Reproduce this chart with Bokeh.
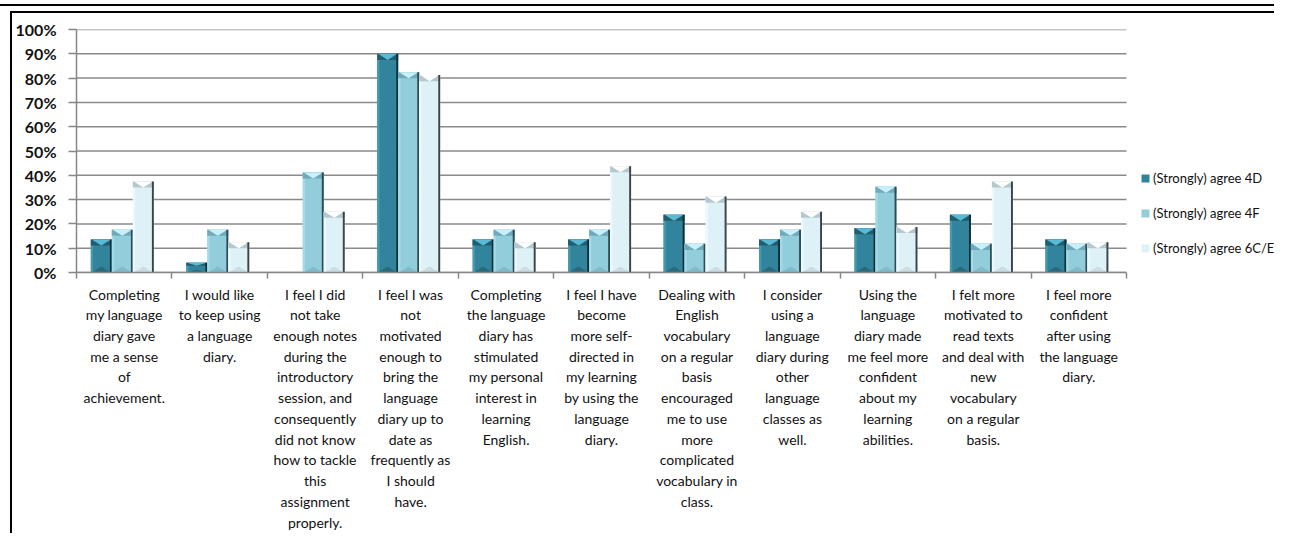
import numpy as np
from bokeh.plotting import figure
from bokeh.models import (ColumnDataSource, Range1d, FixedTicker, NumeralTickFormatter,
                          Legend, LegendItem)
from bokeh.embed import file_html
from bokeh.resources import INLINE

# ---------------- data ----------------
statements = [
    "Completing\nmy language\ndiary gave\nme a sense\nof\nachievement.",
    "I would like\nto keep using\na language\ndiary.",
    "I feel I did\nnot take\nenough notes\nduring the\nintroductory\nsession, and\nconsequently\ndid not know\nhow to tackle\nthis\nassignment\nproperly.",
    "I feel I was\nnot\nmotivated\nenough to\nbring the\nlanguage\ndiary up to\ndate as\nfrequently as\nI should\nhave.",
    "Completing\nthe language\ndiary has\nstimulated\nmy personal\ninterest in\nlearning\nEnglish.",
    "I feel I have\nbecome\nmore self-\ndirected in\nmy learning\nby using the\nlanguage\ndiary.",
    "Dealing with\nEnglish\nvocabulary\non a regular\nbasis\nencouraged\nme to use\nmore\ncomplicated\nvocabulary in\nclass.",
    "I consider\nusing a\nlanguage\ndiary during\nother\nlanguage\nclasses as\nwell.",
    "Using the\nlanguage\ndiary made\nme feel more\nconfident\nabout my\nlearning\nabilities.",
    "I felt more\nmotivated to\nread texts\nand deal with\nnew\nvocabulary\non a regular\nbasis.",
    "I feel more\nconfident\nafter using\nthe language\ndiary.",
]
series_names = ["(Strongly) agree 4D", "(Strongly) agree 4F", "(Strongly) agree 6C/E"]
agree_4d = [0.136, 0.04, 0.0, 0.90, 0.136, 0.136, 0.238, 0.136, 0.182, 0.238, 0.136]
agree_4f = [0.176, 0.176, 0.412, 0.824, 0.176, 0.176, 0.118, 0.176, 0.353, 0.118, 0.118]
agree_6ce = [0.375, 0.125, 0.25, 0.8125, 0.125, 0.4375, 0.3125, 0.25, 0.1875, 0.375, 0.125]
y_ticks = [i / 10 for i in range(11)]

# ---------------- styles ----------------
styles = [
    dict(main="#31849B", band="#215E70", tri="#5BBAD3", bottom="#235F70", left="#4A9DB4", right="#10303A"),
    dict(main="#92CDDC", band="#6FAABB", tri="#C8F0FA", bottom="#78B3C3", left="#A9DCE8", right="#2E4A52"),
    dict(main="#DDF1F7", band="#B5C8CE", tri="#FFFFFF", bottom="#C3D3D8", left="#F2FBFE", right="#3A4447"),
]
values = [agree_4d, agree_4f, agree_6ce]
offsets = [-0.22, 0.0, 0.22]
BW = 0.22

# layout: the category area is 1050px wide; the frame continues to the right edge
# so that the legend can sit beside the bars
W, H = 1274, 533
LEFT, TOP, BOTTOM = 76, 29, 260
n_cat = len(statements)
cat_px = 1050.0
x_end = n_cat * (W - LEFT) / cat_px

p = figure(width=W, height=H, output_backend="svg", toolbar_location=None,
           x_range=Range1d(0, x_end), y_range=Range1d(0, 1),
           min_border_left=LEFT, min_border_right=0, min_border_top=TOP,
           min_border_bottom=BOTTOM)
p.outline_line_color = None
p.background_fill_color = "white"
p.border_fill_color = None
# the black chart-area frame (left edge) and the double rule at the top
p.styles = {
    "background-color": "white",
    "background-image": "linear-gradient(#000,#000), linear-gradient(#000,#000), linear-gradient(#000,#000)",
    "background-repeat": "no-repeat",
    "background-size": "100% 2px, 100% 2px, 2px 100%",
    "background-position": "0px 4px, 10px 11px, 10px 11px",
}

# horizontal gridlines, limited to the category area
p.segment(x0=0, x1=n_cat, y0=y_ticks, y1=y_ticks, line_color="#8A8A8A", line_width=1.5)

centers = np.arange(n_cat) + 0.5
legend_items = []
for name, vals, off, st in zip(series_names, values, offsets, styles):
    v = np.array(vals, dtype=float)
    keep = v > 0
    x = (centers + off - 0.02)[keep]
    v = v[keep]
    b = np.minimum(0.025, v * 0.3)
    src = ColumnDataSource(dict(x=x, top=v, b=b, band_bottom=v - b,
                                left_x=x - BW / 2 + 0.012, right_x=x + BW / 2 - 0.01))
    r = p.vbar(x="x", top="top", bottom=0, width=BW, source=src,
               fill_color=st["main"], line_color=None)
    legend_items.append(LegendItem(label=name, renderers=[r]))
    p.vbar(x="left_x", top="top", bottom=0, width=0.024, source=src,
           fill_color=st["left"], line_color=None, fill_alpha=0.8)
    p.vbar(x="x", top="top", bottom="band_bottom", width=BW, source=src,
           fill_color=st["band"], line_color=None)
    tri_xs = [[xi - BW / 2 + 0.01, xi + BW / 2 - 0.01, xi] for xi in x]
    tri_ys = [[vi, vi, vi - bi] for vi, bi in zip(v, b)]
    p.patches(tri_xs, tri_ys, fill_color=st["tri"], line_color=None)
    bot_xs = [[xi - BW / 2 + 0.01, xi + BW / 2 - 0.01, xi] for xi in x]
    bot_ys = [[0, 0, bi] for bi in b]
    p.patches(bot_xs, bot_ys, fill_color=st["bottom"], line_color=None, fill_alpha=0.7)
    p.vbar(x="right_x", top="top", bottom=0, width=0.02, source=src,
           fill_color=st["right"], line_color=None)

# ---------------- axes ----------------
p.xaxis.bounds = (0, n_cat)
p.xaxis.ticker = FixedTicker(ticks=list(centers), minor_ticks=list(range(n_cat + 1)))
p.xaxis.major_label_overrides = {float(c): s for c, s in zip(centers, statements)}
p.xaxis.major_tick_line_color = None
p.xaxis.major_tick_out = 0
p.xaxis.minor_tick_out = 6
p.xaxis.minor_tick_in = 0
p.xaxis.minor_tick_line_color = "#868686"
p.xaxis.minor_tick_line_width = 1.5
p.xaxis.axis_line_color = "#868686"
p.xaxis.axis_line_width = 1.5
p.xaxis.major_label_text_font = "Lato"
p.xaxis.major_label_text_font_size = "14px"
p.xaxis.major_label_text_color = "#111111"
p.xaxis.major_label_text_line_height = 1.22
p.xaxis.major_label_standoff = 7
p.xaxis.major_label_orientation = "horizontal"

p.yaxis.ticker = FixedTicker(ticks=y_ticks)
p.yaxis.formatter = NumeralTickFormatter(format="0%")
p.yaxis.minor_tick_line_color = None
p.yaxis.major_tick_out = 8
p.yaxis.major_tick_in = 0
p.yaxis.major_tick_line_color = "#868686"
p.yaxis.major_tick_line_width = 1.5
p.yaxis.axis_line_color = "#868686"
p.yaxis.axis_line_width = 1.5
p.yaxis.major_label_text_font = "Lato"
p.yaxis.major_label_text_font_size = "16px"
p.yaxis.major_label_text_font_style = "bold"
p.yaxis.major_label_text_color = "#111111"
p.yaxis.major_label_standoff = 12

p.xgrid.grid_line_color = None
p.ygrid.grid_line_color = None

legend = Legend(items=legend_items, location=(1064, 16), orientation="vertical",
                border_line_color=None, background_fill_alpha=0,
                label_text_font="Lato", label_text_font_size="13px", label_text_color="#111111",
                glyph_width=10, glyph_height=10, label_height=14, spacing=19,
                padding=0, margin=0, label_standoff=3)
p.add_layout(legend)

open("out.html", "w").write(file_html(p, INLINE))
